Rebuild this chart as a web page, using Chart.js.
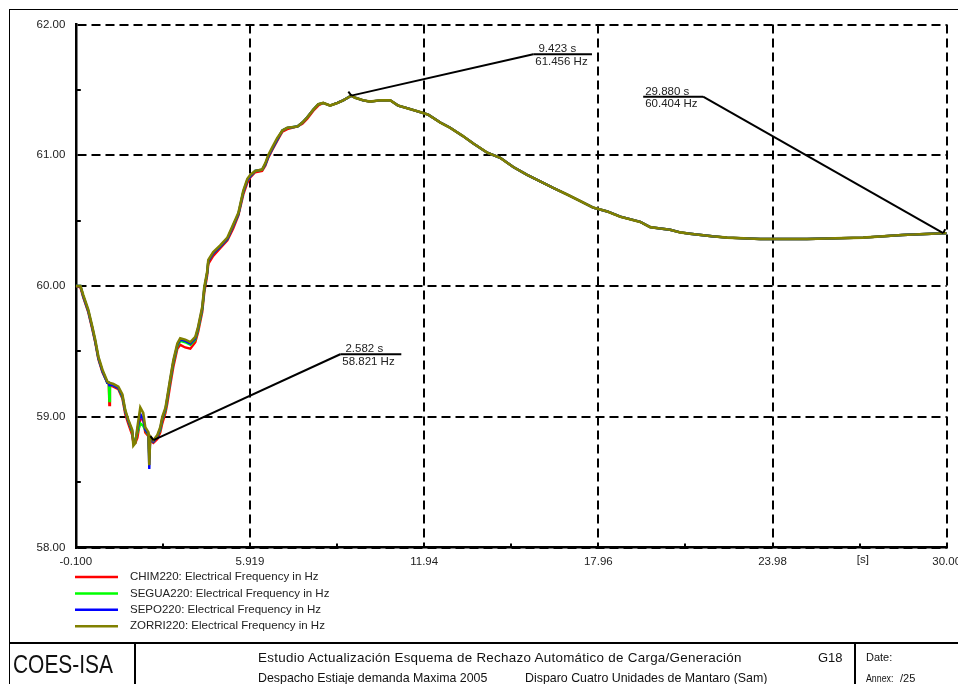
<!DOCTYPE html>
<html><head><meta charset="utf-8">
<script src="https://cdn.jsdelivr.net/npm/chart.js@4.4.0/dist/chart.umd.min.js"></script>
<style>
html,body{margin:0;padding:0;background:#fff;}
body{width:958px;height:684px;position:relative;overflow:hidden;font-family:'Liberation Sans',Arial,sans-serif;color:#111;}
#c{position:absolute;left:0;top:0;}
.ln{position:absolute;background:#000;}
.t{position:absolute;white-space:nowrap;line-height:1;}
</style></head><body>
<canvas id="c" width="958" height="684"></canvas>
<div class="ln" style="left:9px;top:9px;width:949px;height:1px"></div>
<div class="ln" style="left:9px;top:9px;width:1px;height:675px"></div>
<div class="ln" style="left:9px;top:642px;width:949px;height:2px"></div>
<div class="ln" style="left:134px;top:643px;width:2px;height:41px"></div>
<div class="ln" style="left:854px;top:643px;width:2px;height:41px"></div>
<div class="t" style="left:13px;top:651px;font-size:26.5px;transform:scaleX(0.79);transform-origin:left top">COES-ISA</div>
<div class="t" style="left:258px;top:650.5px;font-size:13.4px;letter-spacing:0.28px">Estudio Actualización Esquema de Rechazo Automático de Carga/Generación</div>
<div class="t" style="left:818px;top:650.5px;font-size:13px">G18</div>
<div class="t" style="left:866px;top:651.5px;font-size:11px">Date:</div>
<div class="t" style="left:258px;top:672px;font-size:12.4px">Despacho Estiaje demanda Maxima 2005</div>
<div class="t" style="left:525px;top:672px;font-size:12.4px">Disparo Cuatro Unidades de Mantaro (Sam)</div>
<div class="t" style="left:866px;top:672.5px;font-size:11px;transform:scaleX(0.8);transform-origin:left top">Annex:</div>
<div class="t" style="left:900px;top:672.5px;font-size:11px">/25</div>
<script>
// ---- data ----
const times = [-0.10,0.06,0.16,0.33,0.47,0.57,0.68,0.82,0.99,1.04,1.06,1.08,1.20,1.37,1.51,1.61,1.71,1.85,1.89,1.96,
  2.03,2.13,2.23,2.30,2.41,2.44,2.47,2.58,2.72,2.82,2.89,3.00,3.06,3.17,3.27,3.41,3.51,3.68,3.86,4.03,
  4.13,4.27,4.34,4.44,4.48,4.65,4.89,5.14,5.34,5.52,5.69,5.83,5.93,6.10,6.34,6.45,6.55,6.69,6.86,7.04,
  7.21,7.56,7.73,7.90,8.11,8.28,8.45,8.69,8.94,9.14,9.42,9.55,9.83,10.07,10.42,10.77,11.04,11.35,11.80,12.08,
  12.50,12.84,13.26,13.64,14.12,14.57,15.02,15.50,15.95,16.40,16.88,17.33,17.78,18.27,18.72,19.41,19.75,20.10,20.44,20.79,
  21.13,21.89,22.41,23.55,25.17,27.11,28.46,29.88,30.00];
const zorri220 = [60.00,60.00,59.93,59.82,59.69,59.59,59.46,59.36,59.27,59.26,59.26,59.26,59.25,59.23,59.17,59.05,58.98,58.90,58.78,58.80,
  58.92,59.07,59.03,58.92,58.88,58.63,58.85,58.82,58.86,58.92,59.00,59.07,59.15,59.30,59.43,59.56,59.60,59.59,59.57,59.61,
  59.69,59.84,59.99,60.11,60.20,60.26,60.31,60.37,60.47,60.56,60.73,60.82,60.85,60.88,60.89,60.94,61.00,61.06,61.13,61.19,
  61.21,61.22,61.25,61.29,61.35,61.39,61.40,61.38,61.40,61.42,61.456,61.44,61.42,61.41,61.42,61.42,61.38,61.36,61.33,61.31,
  61.25,61.21,61.15,61.09,61.02,60.98,60.91,60.85,60.80,60.75,60.70,60.65,60.60,60.57,60.53,60.49,60.45,60.44,60.43,60.41,
  60.40,60.38,60.37,60.36,60.36,60.37,60.39,60.404,60.404];
const chim220 = [60.00,59.99,59.91,59.80,59.67,59.57,59.44,59.34,59.26,59.25,59.09,59.24,59.23,59.21,59.14,59.02,58.95,58.86,58.80,58.80,
  58.84,58.98,58.98,58.88,58.85,58.70,58.82,58.80,58.83,58.88,58.95,59.03,59.10,59.25,59.38,59.52,59.55,59.53,59.52,59.57,
  59.65,59.80,59.95,60.08,60.17,60.23,60.29,60.35,60.44,60.54,60.70,60.79,60.83,60.87,60.88,60.92,60.98,61.04,61.11,61.18,
  61.20,61.22,61.24,61.28,61.34,61.38,61.40,61.38,61.40,61.42,61.455,61.44,61.42,61.41,61.42,61.42,61.38,61.36,61.33,61.31,
  61.25,61.21,61.15,61.09,61.02,60.98,60.91,60.85,60.80,60.75,60.70,60.65,60.60,60.57,60.53,60.49,60.45,60.44,60.43,60.41,
  60.40,60.38,60.37,60.36,60.36,60.37,60.39,60.404,60.404];
const segua220 = [60.00,60.00,59.92,59.81,59.68,59.58,59.45,59.35,59.26,59.26,59.12,59.25,59.24,59.22,59.15,59.04,58.97,58.88,58.82,58.82,
  58.88,58.95,58.93,58.90,58.86,58.68,58.84,58.81,58.85,58.90,58.98,59.05,59.13,59.28,59.41,59.54,59.58,59.57,59.55,59.59,
  59.67,59.82,59.97,60.10,60.19,60.25,60.30,60.36,60.46,60.55,60.72,60.81,60.84,60.88,60.89,60.93,60.99,61.05,61.12,61.19,
  61.21,61.22,61.25,61.29,61.35,61.39,61.40,61.38,61.40,61.42,61.456,61.44,61.42,61.41,61.42,61.42,61.38,61.36,61.33,61.31,
  61.25,61.21,61.15,61.09,61.02,60.98,60.91,60.85,60.80,60.75,60.70,60.65,60.60,60.57,60.53,60.49,60.45,60.44,60.43,60.41,
  60.40,60.38,60.37,60.36,60.36,60.37,60.39,60.404,60.404];
const sepo220 = [60.00,60.00,59.92,59.81,59.68,59.58,59.45,59.35,59.26,59.26,59.24,59.25,59.24,59.22,59.16,59.04,58.97,58.89,58.80,58.81,
  58.90,59.02,58.98,58.90,58.87,58.60,58.84,58.81,58.85,58.91,58.99,59.06,59.14,59.29,59.42,59.55,59.59,59.58,59.56,59.60,
  59.68,59.83,59.98,60.10,60.19,60.25,60.30,60.36,60.46,60.55,60.72,60.81,60.84,60.88,60.89,60.93,60.99,61.05,61.12,61.19,
  61.21,61.22,61.25,61.29,61.35,61.39,61.40,61.38,61.40,61.42,61.456,61.44,61.42,61.41,61.42,61.42,61.38,61.36,61.33,61.31,
  61.25,61.21,61.15,61.09,61.02,60.98,60.91,60.85,60.80,60.75,60.70,60.65,60.60,60.57,60.53,60.49,60.45,60.44,60.43,60.41,
  60.40,60.38,60.37,60.36,60.36,60.37,60.39,60.404,60.404];
const seriesLabels = ['CHIM220: Electrical Frequency in Hz','SEGUA220: Electrical Frequency in Hz','SEPO220: Electrical Frequency in Hz','ZORRI220: Electrical Frequency in Hz'];
const xTickValues = [-0.1, 5.919, 11.94, 17.96, 23.98, 30.0];
const xTickLabels = ['-0.100','5.919','11.94','17.96','23.98','30.00'];
const xMinorTicks = [2.91, 8.93, 14.95, 20.97, 26.99];
const yTickValues = [58, 59, 60, 61, 62];
const yTickLabels = ['58.00','59.00','60.00','61.00','62.00'];
const yMinorTicks = [58.5, 59.5, 60.5, 61.5];
const xUnitLabel = '[s]';
const xUnitPos = 27.1;
// annotations: marked point (t,f), underline from t1 to t2 at level lf, joint at tj
const annotTime = [2.582, 9.423, 29.880];
const annotFreq = [58.821, 61.456, 60.404];
const annotTop = [' 2.582 s', ' 9.423 s', '29.880 s'];
const annotBottom = ['58.821 Hz', '61.456 Hz', '60.404 Hz'];
const annotLineT1 = [9.04, 15.71, 19.51];
const annotLineT2 = [11.15, 17.74, 21.58];
const annotJointT = [9.04, 15.71, 21.58];
const annotLineF = [59.478, 61.772, 61.448];

const FONT = "'Liberation Sans', Arial, sans-serif";
const colors = ['#ff0000', '#00ff00', '#0000ff', '#808000'];
const valueSets = [chim220, segua220, sepo220, zorri220];
const drawOrder = [3, 2, 1, 0];

const datasets = valueSets.map((vals, i) => ({
  label: seriesLabels[i],
  data: times.map((t, k) => ({x: t, y: vals[k]})),
  borderColor: colors[i],
  backgroundColor: colors[i],
  borderWidth: i === 3 ? 2.6 : 2.4,
  pointRadius: 0,
  tension: 0,
  fill: false,
  order: drawOrder[i]
}));

const extras = {
  id: 'extras',
  afterDatasetsDraw(chart) {
    const {ctx, scales: {x, y}} = chart;
    ctx.save();
    ctx.strokeStyle = '#000';
    ctx.lineWidth = 2;
    ctx.fillStyle = '#222';
    ctx.font = '11.5px ' + FONT;
    ctx.textAlign = 'left';
    ctx.textBaseline = 'alphabetic';
    annotTime.forEach((t, i) => {
      const px = x.getPixelForValue(t), py = y.getPixelForValue(annotFreq[i]);
      const jx = x.getPixelForValue(annotJointT[i]), ly = y.getPixelForValue(annotLineF[i]);
      const x1 = x.getPixelForValue(annotLineT1[i]), x2 = x.getPixelForValue(annotLineT2[i]);
      ctx.beginPath();
      ctx.moveTo(px, py); ctx.lineTo(jx, ly);
      ctx.stroke();
      ctx.beginPath();
      ctx.moveTo(x1, ly); ctx.lineTo(x2, ly);
      ctx.stroke();
      ctx.beginPath();
      ctx.moveTo(px, py); ctx.lineTo(px + (i === 2 ? 2 : -3), py - 4);
      ctx.stroke();
      ctx.fillText(annotTop[i], x1 + 2, ly - 2);
      ctx.fillText(annotBottom[i], x1 + 2, ly + 10.5);
    });
    ctx.restore();
  },
  afterDraw(chart) {
    const {ctx, scales: {x, y}, chartArea: a} = chart;
    ctx.save();
    ctx.strokeStyle = '#000';
    ctx.lineWidth = 2;
    xMinorTicks.forEach(v => {
      const px = Math.round(x.getPixelForValue(v));
      ctx.beginPath(); ctx.moveTo(px, a.bottom); ctx.lineTo(px, a.bottom - 4); ctx.stroke();
    });
    yMinorTicks.forEach(v => {
      const py = Math.round(y.getPixelForValue(v));
      ctx.beginPath(); ctx.moveTo(a.left, py); ctx.lineTo(a.left + 5, py); ctx.stroke();
    });
    ctx.fillStyle = '#222';
    ctx.font = '11.5px ' + FONT;
    ctx.textAlign = 'center';
    ctx.textBaseline = 'top';
    ctx.fillText(xUnitLabel, x.getPixelForValue(xUnitPos), a.bottom + 7);
    ctx.textAlign = 'left';
    ctx.textBaseline = 'middle';
    chart.data.datasets.forEach((ds, i) => {
      const ly = 577 + i * 16.4;
      ctx.strokeStyle = ds.borderColor;
      ctx.lineWidth = 2.5;
      ctx.beginPath(); ctx.moveTo(75, ly); ctx.lineTo(118, ly); ctx.stroke();
      ctx.fillStyle = '#222';
      ctx.fillText(ds.label, 130, ly);
    });
    ctx.restore();
  }
};

new Chart(document.getElementById('c'), {
  type: 'line',
  data: {datasets},
  options: {
    responsive: false,
    animation: false,
    devicePixelRatio: 1,
    layout: {padding: {left: 0, top: 24.5, right: 11.3, bottom: 0}},
    plugins: {legend: {display: false}, tooltip: {enabled: false}},
    scales: {
      x: {
        type: 'linear', min: -0.1, max: 30,
        afterBuildTicks: s => { s.ticks = xTickValues.map(v => ({value: v})); },
        afterFit: s => { s.height = 136.5; s.paddingLeft = 0; s.paddingRight = 0; },
        ticks: {autoSkip: false, maxRotation: 0, padding: 7, color: '#222',
          font: {family: FONT, size: 11.5},
          callback: (v) => xTickLabels[xTickValues.indexOf(v)]},
        grid: {color: '#000', lineWidth: 2, drawTicks: false},
        border: {display: true, color: '#000', width: 2.5, dash: [9, 5]}
      },
      y: {
        type: 'linear', min: 58, max: 62,
        afterBuildTicks: s => { s.ticks = yTickValues.map(v => ({value: v})); },
        afterFit: s => { s.width = 75.8; s.paddingTop = 0; s.paddingBottom = 0; },
        ticks: {padding: 10.5, color: '#222', font: {family: FONT, size: 11.5},
          callback: (v) => yTickLabels[yTickValues.indexOf(v)]},
        grid: {color: '#000', lineWidth: 2, drawTicks: false},
        border: {display: true, color: '#000', width: 2.5, dash: [9, 5]}
      }
    }
  },
  plugins: [extras]
});
</script>
</body></html>
